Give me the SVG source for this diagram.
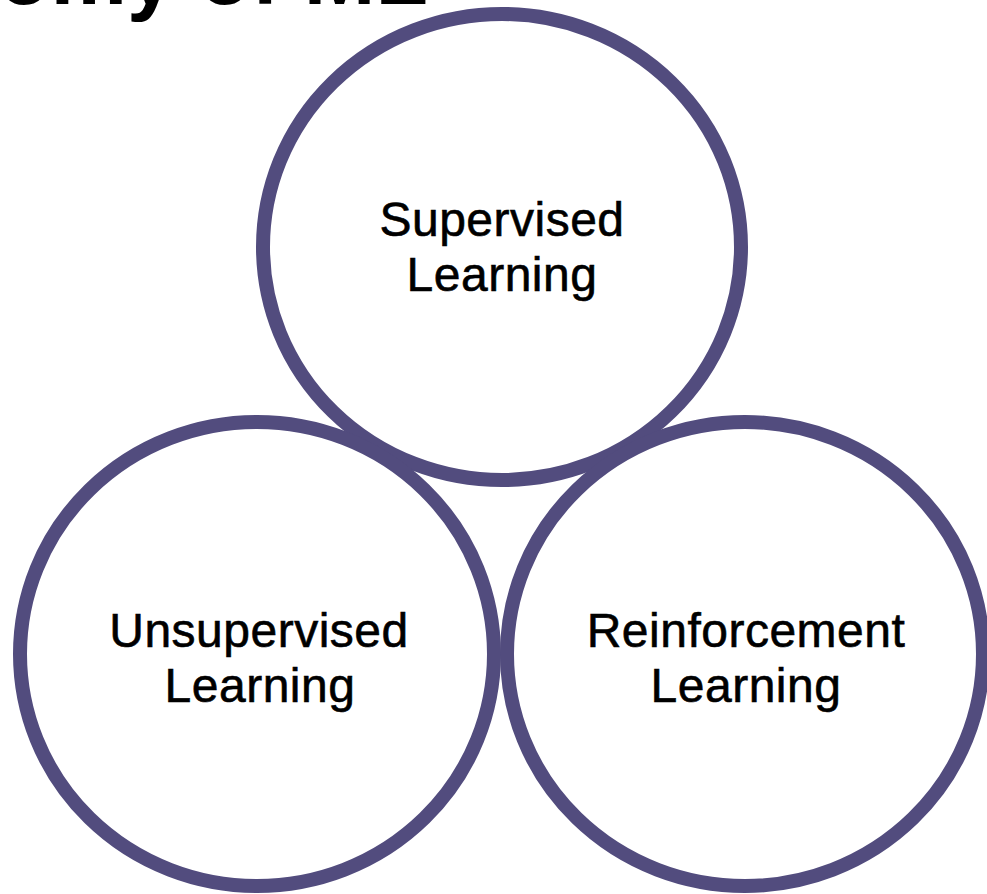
<svg xmlns="http://www.w3.org/2000/svg" width="987" height="894" viewBox="0 0 987 894">
  <style>
    .ring { fill: none; stroke: #524C7E; stroke-width: 14; }
    .label { font-family: "Liberation Sans", Arial, Helvetica, sans-serif; font-size: 48px; fill: #000; stroke: #000; stroke-width: 0.6; text-anchor: middle; letter-spacing: 0.5px; }
    .title { font-family: "Liberation Sans", Arial, Helvetica, sans-serif; font-size: 86px; font-weight: bold; fill: #000; text-anchor: end; }
  </style>
  <rect width="987" height="894" fill="#fff"/>

  <!-- Slide title, mostly above the visible area -->
  <text class="title" x="428" y="4">Taxonomy of ML</text>

  <g id="supervised">
    <ellipse class="ring" cx="502" cy="247" rx="239" ry="233"/>
    <text class="label" x="502" y="236">Supervised</text>
    <text class="label" x="502" y="291">Learning</text>
  </g>

  <g id="unsupervised">
    <ellipse class="ring" cx="257" cy="654" rx="237" ry="232"/>
    <text class="label" x="259" y="647">Unsupervised</text>
    <text class="label" x="260" y="702">Learning</text>
  </g>

  <g id="reinforcement">
    <ellipse class="ring" cx="745" cy="654" rx="238" ry="232"/>
    <text class="label" x="746" y="647">Reinforcement</text>
    <text class="label" x="746" y="702">Learning</text>
  </g>
</svg>
